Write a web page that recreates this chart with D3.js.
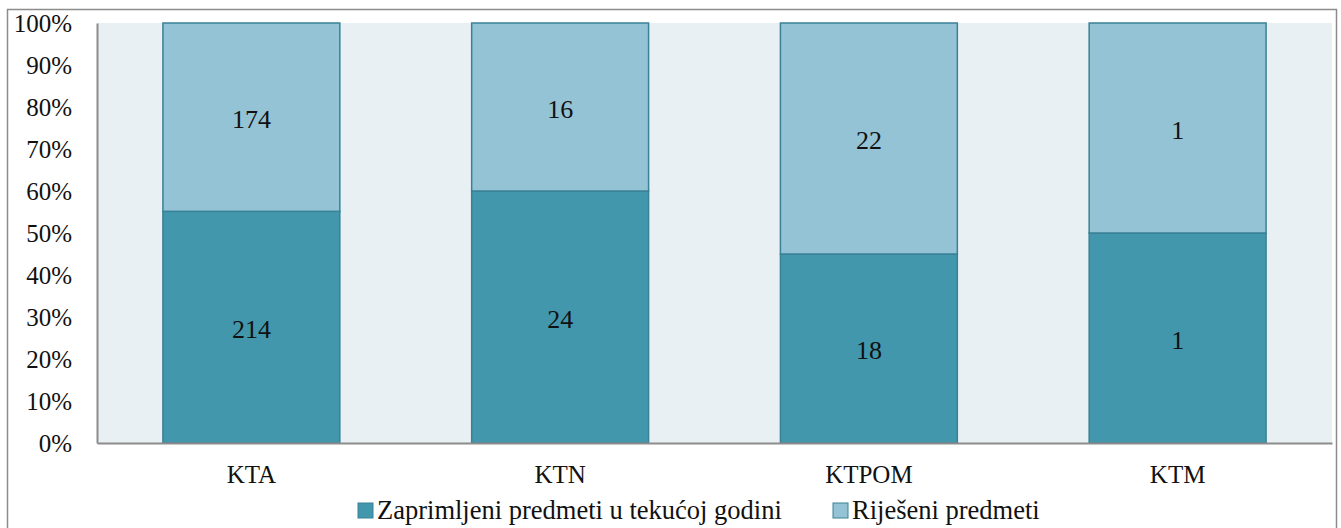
<!DOCTYPE html>
<html><head><meta charset="utf-8">
<script src="https://cdn.jsdelivr.net/npm/d3@7"></script>
</head>
<body style="margin:0;background:#fff">
<svg id="c" width="1341" height="528" font-family="Liberation Serif"></svg>
<script>
const categories = ["KTA", "KTN", "KTPOM", "KTM"];
const seriesNames = ["Zaprimljeni predmeti u tekućoj godini", "Riješeni predmeti"];
const received = [214, 24, 18, 1];
const resolved = [174, 16, 22, 1];
const yTickLabels = ["0%","10%","20%","30%","40%","50%","60%","70%","80%","90%","100%"];
const colors = ["#4397ad", "#93c3d4"];
const FONT = "Liberation Serif";

const svg = d3.select("#c");
svg.append("rect").attr("x",7.5).attr("y",9.5).attr("width",1329).attr("height",530)
  .attr("fill","#fff").attr("stroke","#8c8c8c").attr("stroke-width",1.5);

const m = {l:97, r:1332, t:23, b:443};
const x = d3.scaleBand().domain(categories).range([m.l, m.r]).paddingInner(0.427).paddingOuter(0.2135);
const y = d3.scaleLinear().domain([0,1]).range([m.b, m.t]);

svg.append("rect").attr("x",m.l).attr("y",m.t).attr("width",m.r-m.l).attr("height",m.b-m.t).attr("fill","#e8f0f3");

const rows = categories.map((c,i)=>({c, vals:[received[i], resolved[i]], tot:received[i]+resolved[i]}));
const stacked = [];
rows.forEach(r=>{
  let acc=0;
  r.vals.forEach((v,k)=>{
    const y0=acc/r.tot, y1=(acc+v)/r.tot; acc+=v;
    stacked.push({c:r.c,k,v,y0,y1});
  });
});

svg.append("g").selectAll("rect").data(stacked).join("rect")
  .attr("x",d=>x(d.c)).attr("width",x.bandwidth())
  .attr("y",d=>y(d.y1)).attr("height",d=>y(d.y0)-y(d.y1))
  .attr("fill",d=>colors[d.k]).attr("stroke","#3a8196").attr("stroke-width",1.5);

svg.append("g").selectAll("text").data(stacked).join("text")
  .attr("x",d=>x(d.c)+x.bandwidth()/2).attr("y",d=>(y(d.y0)+y(d.y1))/2+2)
  .attr("text-anchor","middle").attr("dominant-baseline","central")
  .attr("font-family",FONT).attr("font-size",26).attr("fill","#111").text(d=>d.v);

const yAxis = d3.axisLeft(y).tickValues(d3.range(0,1.0001,0.1)).tickSize(0).tickPadding(25)
  .tickFormat((d,i)=>yTickLabels[i]);
const gy = svg.append("g").attr("transform",`translate(${m.l},0)`).call(yAxis)
  .attr("font-family",FONT).attr("font-size",25);
gy.select(".domain").attr("stroke","#8c8c8c").attr("stroke-width",2);
gy.selectAll("text").attr("font-family",FONT).attr("font-size",25).attr("fill","#111");

const xAxis = d3.axisBottom(x).tickSize(0).tickPadding(22);
const gx = svg.append("g").attr("transform",`translate(0,${m.b})`).call(xAxis)
  .attr("font-family",FONT).attr("font-size",25);
gx.select(".domain").attr("stroke","#8c8c8c").attr("stroke-width",2);
gx.selectAll("text").attr("font-family",FONT).attr("font-size",25).attr("fill","#111");

const leg = [{x:358, k:0},{x:833, k:1}];
leg.forEach(l=>{
  svg.append("rect").attr("x",l.x).attr("y",503).attr("width",15).attr("height",15)
    .attr("fill",colors[l.k]).attr("stroke","#3a8196").attr("stroke-width",1);
  svg.append("text").attr("x",l.x+19).attr("y",519).attr("font-family",FONT).attr("font-size",26.5)
    .attr("fill","#111").text(seriesNames[l.k]);
});
</script>
</body></html>
